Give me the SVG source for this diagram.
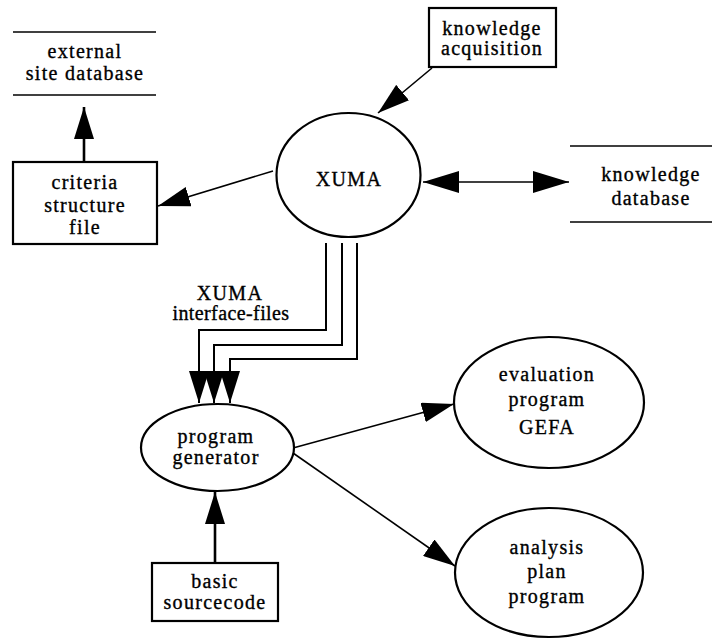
<svg xmlns="http://www.w3.org/2000/svg" width="712" height="639" viewBox="0 0 712 639">
  <style>
    .lbl { font-family: "Liberation Serif", "Times New Roman", serif; font-size: 20px; letter-spacing: 1.3px; fill: #000; stroke: #000; stroke-width: 0.35px; text-anchor: middle; }
    .box { fill: #fff; stroke: #000; stroke-width: 2.2; }
    .oval { fill: #fff; stroke: #000; stroke-width: 2.2; }
    .store { stroke: #000; stroke-width: 1.6; fill: none; }
    .edge { stroke: #000; stroke-width: 1.6; fill: none; }
    .thick { stroke: #000; stroke-width: 2.6; fill: none; }
    .pipe { stroke: #000; stroke-width: 2; fill: none; }
  </style>
  <defs>
    <marker id="head" markerUnits="userSpaceOnUse" markerWidth="32" markerHeight="20" refX="32" refY="10" orient="auto-start-reverse">
      <path d="M0,0 L32,10 L0,20 Z" fill="#000"/>
    </marker>
    <marker id="headWide" markerUnits="userSpaceOnUse" markerWidth="36" markerHeight="22" refX="36" refY="11" orient="auto-start-reverse">
      <path d="M0,0 L36,11 L0,22 Z" fill="#000"/>
    </marker>
  </defs>

  <rect width="712" height="639" fill="#fff"/>

  <!-- connectors -->
  <g id="connectors">
    <!-- knowledge acquisition -> XUMA -->
    <line class="edge" x1="432" y1="68" x2="378" y2="113" marker-end="url(#head)"/>
    <!-- XUMA -> criteria structure file -->
    <line class="edge" x1="273" y1="171" x2="158" y2="206" marker-end="url(#head)"/>
    <!-- criteria structure file -> external site database -->
    <line class="thick" x1="84" y1="161" x2="84" y2="107" marker-end="url(#head)"/>
    <!-- XUMA <-> knowledge database -->
    <line class="edge" x1="423" y1="182" x2="569" y2="182" marker-start="url(#headWide)" marker-end="url(#headWide)"/>
    <!-- XUMA interface-files -> program generator -->
    <polyline class="pipe" points="326,243 326,330 199,330 199,403" marker-end="url(#head)"/>
    <polyline class="pipe" points="342,243 342,345 214,345 214,403" marker-end="url(#head)"/>
    <polyline class="pipe" points="357,243 357,359 230,359 230,403" marker-end="url(#head)"/>
    <!-- basic sourcecode -> program generator -->
    <line class="thick" x1="215" y1="563" x2="215" y2="492" marker-end="url(#head)"/>
    <!-- program generator -> evaluation program GEFA -->
    <line class="edge" x1="293" y1="448" x2="454" y2="404" marker-end="url(#head)"/>
    <!-- program generator -> analysis plan program -->
    <line class="edge" x1="293" y1="453" x2="455" y2="566" marker-end="url(#head)"/>
  </g>

  <g id="external-site-database">
    <line class="store" x1="13" y1="32" x2="156" y2="32"/>
    <line class="store" x1="13" y1="95" x2="156" y2="95"/>
    <text class="lbl" x="85" y="58">external</text>
    <text class="lbl" x="85" y="80">site database</text>
  </g>

  <g id="criteria-structure-file">
    <rect class="box" x="13" y="162" width="144" height="82"/>
    <text class="lbl" x="85" y="189">criteria</text>
    <text class="lbl" x="85" y="212">structure</text>
    <text class="lbl" x="85" y="234">file</text>
  </g>

  <g id="knowledge-acquisition">
    <rect class="box" x="429" y="8" width="127" height="59"/>
    <text class="lbl" x="492" y="35">knowledge</text>
    <text class="lbl" x="492" y="55">acquisition</text>
  </g>

  <g id="xuma">
    <ellipse class="oval" cx="348.5" cy="175" rx="72" ry="62"/>
    <text class="lbl" x="349" y="186">XUMA</text>
  </g>

  <g id="knowledge-database">
    <line class="store" x1="570" y1="146" x2="712" y2="146"/>
    <line class="store" x1="570" y1="222" x2="712" y2="222"/>
    <text class="lbl" x="651" y="181">knowledge</text>
    <text class="lbl" x="651" y="205">database</text>
  </g>

  <g id="interface-files-label">
    <text class="lbl" x="230" y="300">XUMA</text>
    <text class="lbl" x="231" y="320" style="letter-spacing:0.4px">interface-files</text>
  </g>

  <g id="program-generator">
    <ellipse class="oval" cx="217.5" cy="447.5" rx="76.5" ry="43.5"/>
    <text class="lbl" x="216" y="443">program</text>
    <text class="lbl" x="216" y="464">generator</text>
  </g>

  <g id="basic-sourcecode">
    <rect class="box" x="152" y="563" width="126" height="58"/>
    <text class="lbl" x="215" y="588">basic</text>
    <text class="lbl" x="215" y="609">sourcecode</text>
  </g>

  <g id="evaluation-program">
    <ellipse class="oval" cx="549" cy="402.5" rx="95" ry="65.5"/>
    <text class="lbl" x="547" y="381">evaluation</text>
    <text class="lbl" x="547" y="406">program</text>
    <text class="lbl" x="547" y="434">GEFA</text>
  </g>

  <g id="analysis-plan-program">
    <ellipse class="oval" cx="549" cy="572.5" rx="94" ry="64.5"/>
    <text class="lbl" x="547" y="554">analysis</text>
    <text class="lbl" x="547" y="578">plan</text>
    <text class="lbl" x="547" y="603">program</text>
  </g>
</svg>
